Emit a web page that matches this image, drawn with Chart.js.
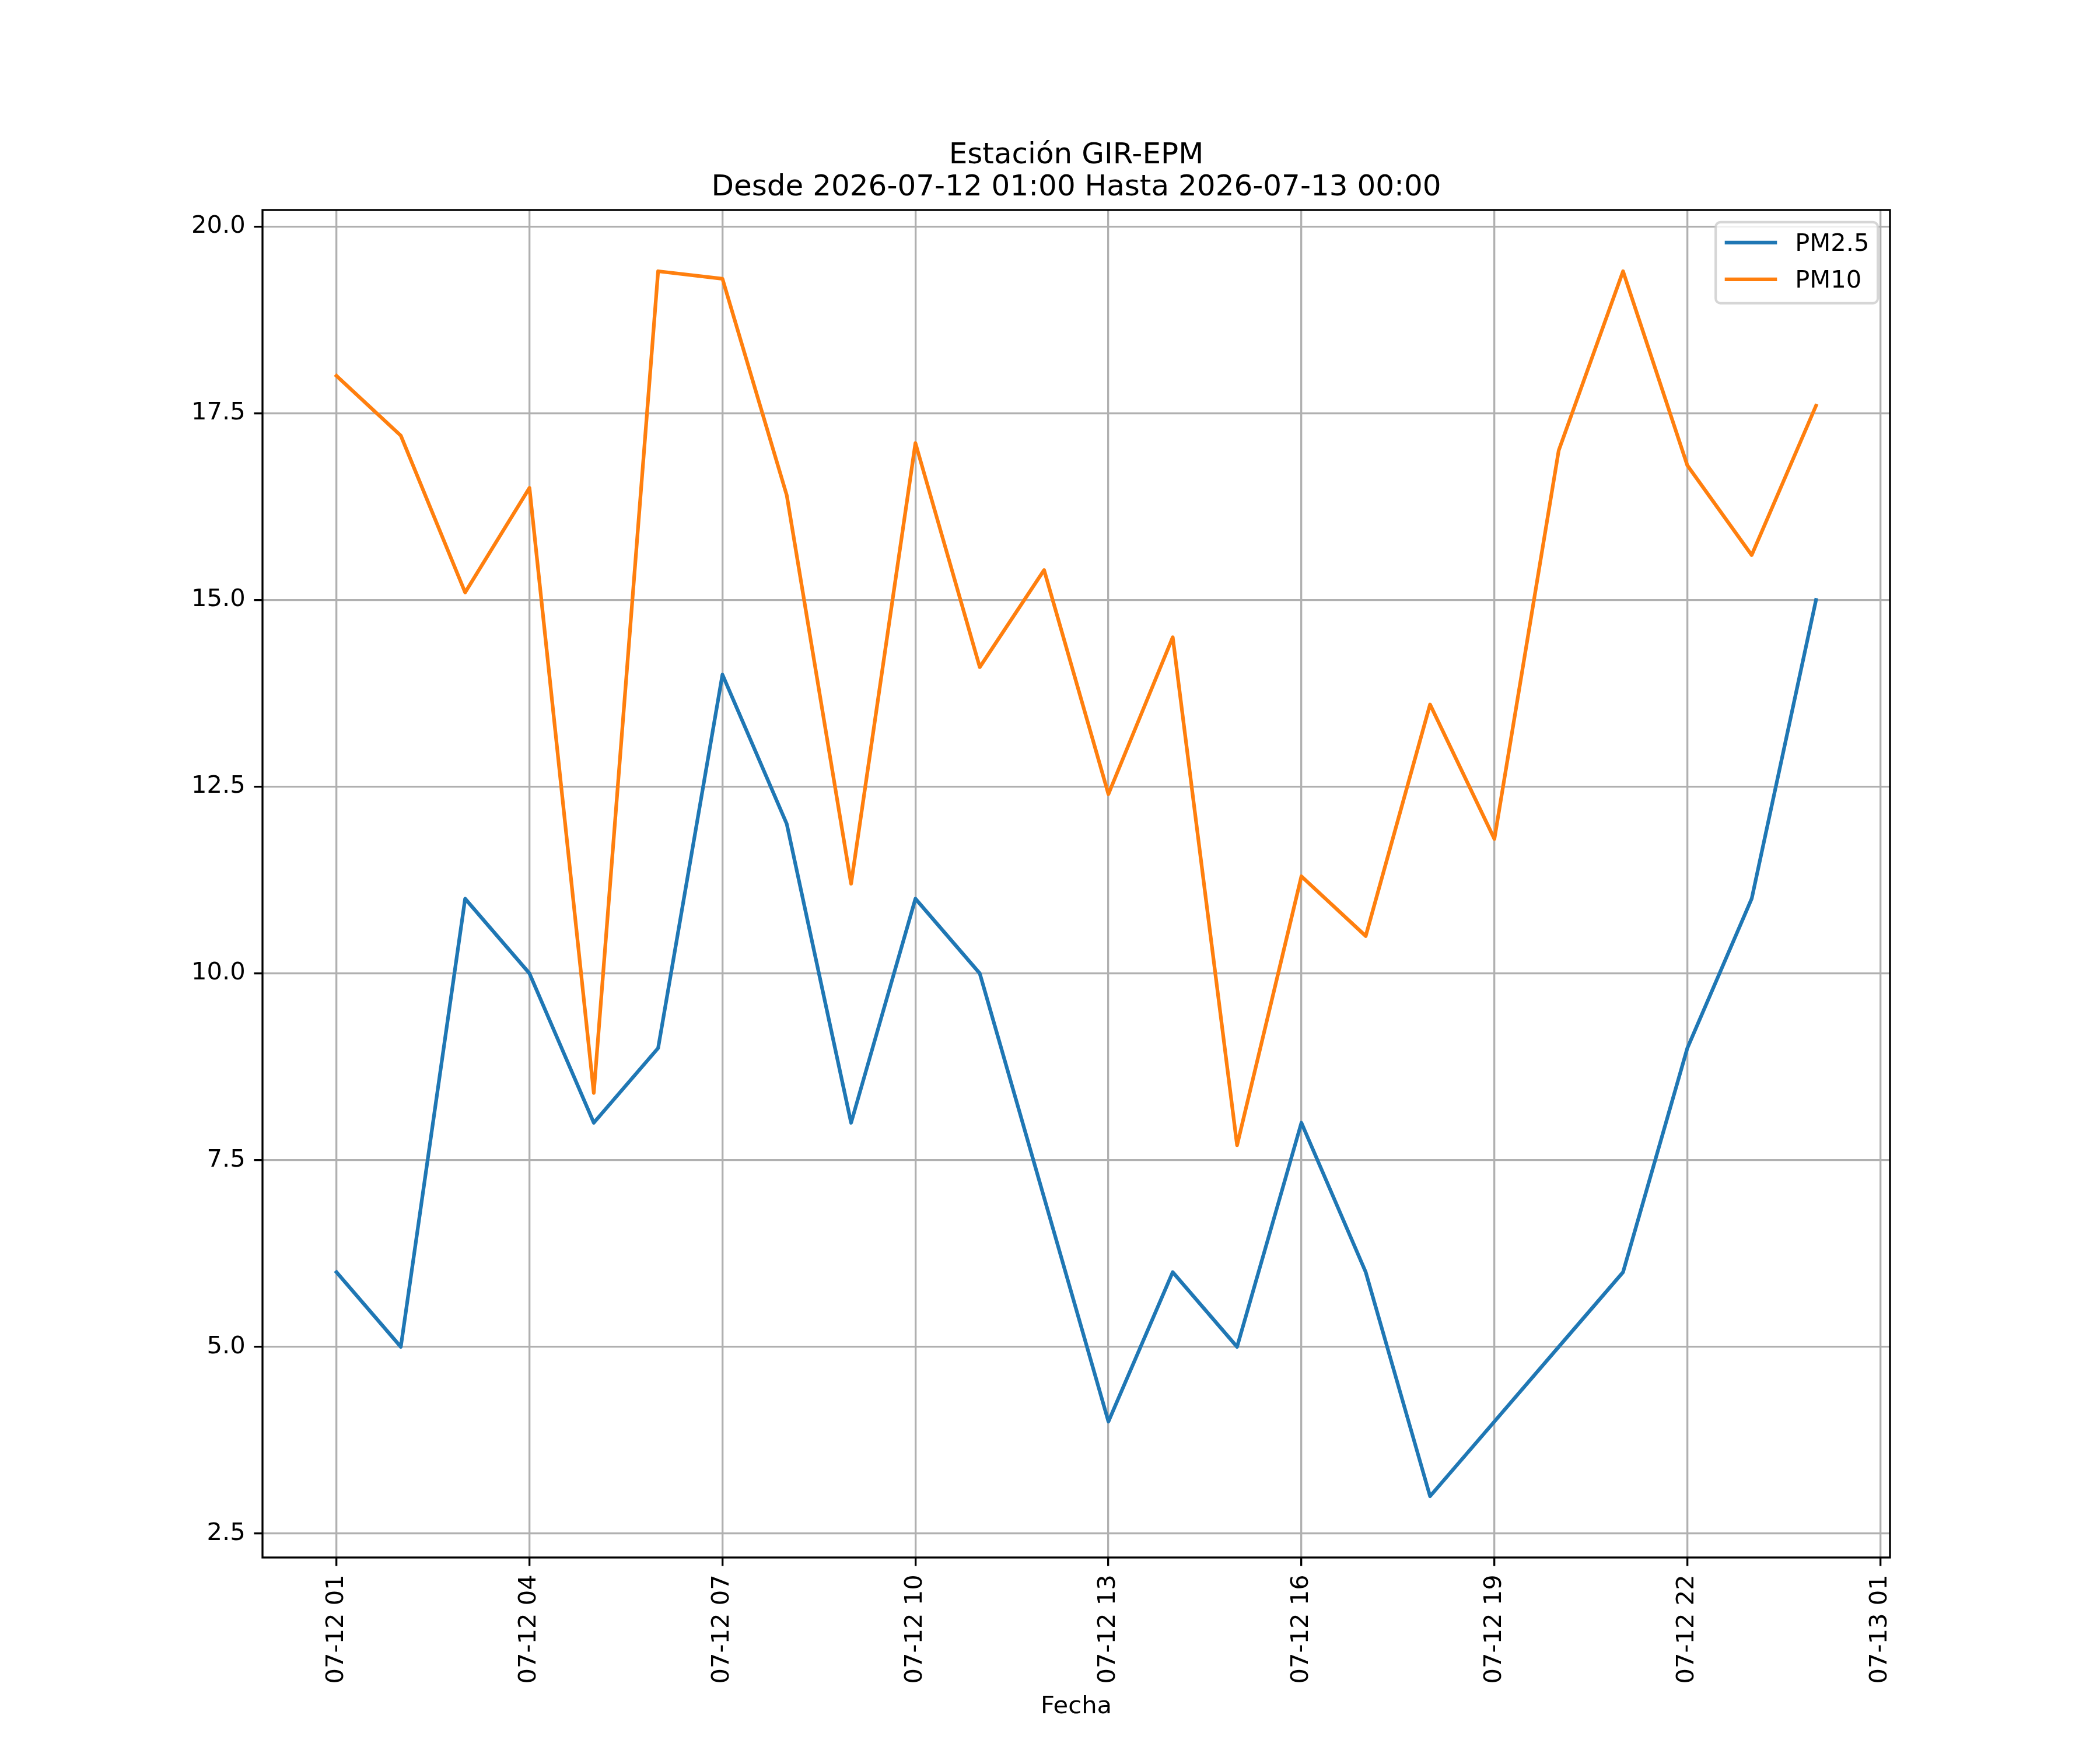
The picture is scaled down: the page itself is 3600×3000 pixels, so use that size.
<!DOCTYPE html>
<html>
<head>
<meta charset="utf-8">
<script src="https://cdn.jsdelivr.net/npm/chart.js"></script>
<style>
  html, body { margin: 0; padding: 0; background: #ffffff; }
  canvas { display: block; }
</style>
</head>
<body>
<canvas id="c" width="3600" height="3000"></canvas>
<script>
// ---- data ----
const fechas = [
  '2026-07-12 01:00','2026-07-12 02:00','2026-07-12 03:00','2026-07-12 04:00',
  '2026-07-12 05:00','2026-07-12 06:00','2026-07-12 07:00','2026-07-12 08:00',
  '2026-07-12 09:00','2026-07-12 10:00','2026-07-12 11:00','2026-07-12 12:00',
  '2026-07-12 13:00','2026-07-12 14:00','2026-07-12 15:00','2026-07-12 16:00',
  '2026-07-12 17:00','2026-07-12 18:00','2026-07-12 19:00','2026-07-12 20:00',
  '2026-07-12 21:00','2026-07-12 22:00','2026-07-12 23:00','2026-07-13 00:00'
];
const pm25 = [6, 5, 11, 10, 8, 9, 14, 12, 8, 11, 10, 7, 4, 6, 5, 8, 6, 3, 4, 5, 6, 9, 11, 15];
const pm10 = [18.0, 17.2, 15.1, 16.5, 8.4, 19.4, 19.3, 16.4, 11.2, 17.1, 14.1, 15.4,
              12.4, 14.5, 7.7, 11.3, 10.5, 13.6, 11.8, 17.0, 19.4, 16.8, 15.6, 17.6];
const seriesNames = ['PM2.5', 'PM10'];
const xTickLabels = ['07-12 01','07-12 04','07-12 07','07-12 10','07-12 13','07-12 16','07-12 19','07-12 22','07-13 01'];
const yTickValues = [2.5, 5.0, 7.5, 10.0, 12.5, 15.0, 17.5, 20.0];
const titleLines = ['Estación GIR-EPM', 'Desde 2026-07-12 01:00 Hasta 2026-07-13 00:00'];
const xLabel = 'Fecha';

// ---- helpers ----
const base = Date.UTC(2026, 6, 12, 0, 0);
function toHours(s) {
  const [d, t] = s.split(' ');
  const [Y, M, D] = d.split('-').map(Number);
  const [h, m] = t.split(':').map(Number);
  return (Date.UTC(Y, M - 1, D, h, m) - base) / 3600000;
}
const xs = fechas.map(toHours);
const xTickValues = xTickLabels.map(l => toHours('2026-' + l + ':00'));

const allY = pm25.concat(pm10);
const yMinD = Math.min(...allY), yMaxD = Math.max(...allY);
const yM = (yMaxD - yMinD) * 0.05;
const xMinD = Math.min(...xs), xMaxD = Math.max(...xs);
const xM = (xMaxD - xMinD) * 0.05;

const PT = 300 / 72;           // px per point at 300 dpi
const FONT = 'DejaVu Sans';
const tickFont = 10 * PT;
const colors = ['#1f77b4', '#ff7f0e'];

const decorPlugin = {
  id: 'decor',
  afterDatasetsDraw(chart) {
    const ctx = chart.ctx, a = chart.chartArea;
    ctx.save();
    ctx.strokeStyle = '#000';
    ctx.lineWidth = 0.8 * PT;
    ctx.lineJoin = 'miter';
    ctx.strokeRect(a.left, a.top, a.right - a.left, a.bottom - a.top);
    ctx.restore();
  },
  afterDraw(chart) {
    const ctx = chart.ctx, a = chart.chartArea;
    const cx = (a.left + a.right) / 2;
    ctx.save();
    // title
    ctx.fillStyle = '#000';
    ctx.textAlign = 'center';
    ctx.textBaseline = 'alphabetic';
    ctx.font = (12 * PT) + 'px "' + FONT + '"';
    ctx.fillText(titleLines[1], cx, a.top - 6 * PT);
    ctx.fillText(titleLines[0], cx, a.top - 6 * PT - 55);
    // x label
    ctx.font = tickFont + 'px "' + FONT + '"';
    ctx.fillText(xLabel, cx, 2937);
    // legend
    const fs = tickFont;
    const bw = 278, bh = 139;
    const bx = a.right - 0.5 * fs - bw, by = a.top + 0.5 * fs;
    const r = 0.2 * fs;
    ctx.beginPath();
    ctx.moveTo(bx + r, by);
    ctx.lineTo(bx + bw - r, by);
    ctx.arcTo(bx + bw, by, bx + bw, by + r, r);
    ctx.lineTo(bx + bw, by + bh - r);
    ctx.arcTo(bx + bw, by + bh, bx + bw - r, by + bh, r);
    ctx.lineTo(bx + r, by + bh);
    ctx.arcTo(bx, by + bh, bx, by + bh - r, r);
    ctx.lineTo(bx, by + r);
    ctx.arcTo(bx, by, bx + r, by, r);
    ctx.closePath();
    ctx.fillStyle = 'rgba(255,255,255,0.8)';
    ctx.fill();
    ctx.strokeStyle = 'rgba(204,204,204,0.8)';
    ctx.lineWidth = 1.0 * PT;
    ctx.stroke();
    chart.data.datasets.forEach((ds, i) => {
      const ly = by + 35 + i * 63;
      ctx.beginPath();
      ctx.strokeStyle = ds.borderColor;
      ctx.lineWidth = 1.5 * PT;
      ctx.lineCap = 'square';
      ctx.moveTo(bx + 0.4 * fs + 2, ly);
      ctx.lineTo(bx + 0.4 * fs + 2 + 2 * fs, ly);
      ctx.stroke();
      ctx.fillStyle = '#000';
      ctx.textAlign = 'left';
      ctx.textBaseline = 'alphabetic';
      ctx.font = fs + 'px "' + FONT + '"';
      ctx.fillText(ds.label, bx + 136, ly + 14);
    });
    ctx.restore();
  }
};

new Chart(document.getElementById('c'), {
  type: 'line',
  data: {
    datasets: [pm25, pm10].map((vals, i) => ({
      label: seriesNames[i],
      data: vals.map((v, j) => ({ x: xs[j], y: v })),
      borderColor: colors[i],
      backgroundColor: colors[i],
      borderWidth: 1.5 * PT,
      pointRadius: 0,
      pointHoverRadius: 0,
      tension: 0,
      fill: false,
      borderJoinStyle: 'round',
      borderCapStyle: 'square'
    }))
  },
  options: {
    responsive: false,
    devicePixelRatio: 1,
    animation: false,
    events: [],
    layout: { padding: { left: 0, top: 360, right: 360, bottom: 0 } },
    plugins: {
      legend: { display: false },
      title: { display: false },
      tooltip: { enabled: false }
    },
    scales: {
      x: {
        type: 'linear',
        min: xMinD - xM,
        max: xMaxD + xM,
        afterBuildTicks(scale) { scale.ticks = xTickValues.map(v => ({ value: v })); },
        afterFit(scale) { scale.height = 330; },
        border: { display: false },
        grid: {
          color: '#b0b0b0',
          lineWidth: 0.8 * PT,
          drawTicks: true,
          tickLength: 3.5 * PT,
          tickColor: '#000',
          tickWidth: 0.8 * PT
        },
        ticks: {
          autoSkip: false,
          minRotation: 90,
          maxRotation: 90,
          padding: 3.5 * PT,
          color: '#000',
          font: { family: FONT, size: tickFont },
          callback(v) {
            const k = xTickValues.indexOf(v);
            return k >= 0 ? xTickLabels[k] : '';
          }
        }
      },
      y: {
        type: 'linear',
        min: yMinD - yM,
        max: yMaxD + yM,
        afterBuildTicks(scale) { scale.ticks = yTickValues.map(v => ({ value: v })); },
        afterFit(scale) { scale.width = 450; },
        border: { display: false },
        grid: {
          color: '#b0b0b0',
          lineWidth: 0.8 * PT,
          drawTicks: true,
          tickLength: 3.5 * PT,
          tickColor: '#000',
          tickWidth: 0.8 * PT
        },
        ticks: {
          padding: 3.5 * PT,
          color: '#000',
          font: { family: FONT, size: tickFont },
          callback(v) { return Number(v).toFixed(1); }
        }
      }
    }
  },
  plugins: [decorPlugin]
});
</script>
</body>
</html>
